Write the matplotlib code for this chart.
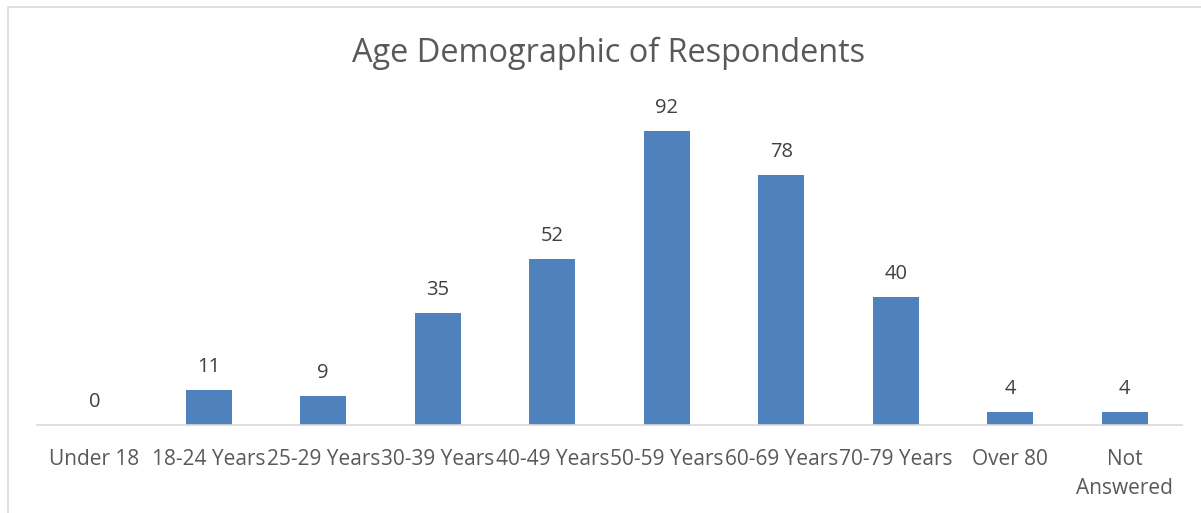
import matplotlib
matplotlib.use("Agg")
import matplotlib.pyplot as plt
from matplotlib.lines import Line2D

categories = ["Under 18", "18-24 Years", "25-29 Years", "30-39 Years", "40-49 Years",
              "50-59 Years", "60-69 Years", "70-79 Years", "Over 80", "Not\nAnswered"]
values = [0, 11, 9, 35, 52, 92, 78, 40, 4, 4]

W, H = 1201, 513
fig = plt.figure(figsize=(W / 100, H / 100), dpi=100)
plt.rcParams['font.family'] = ['Open Sans', 'DejaVu Sans']

# outer chart border (only left and top edges visible)
bx, by = 7.5 / W, 1 - 6.5 / H
fig.lines.append(Line2D([bx, bx, 1.0], [0.0, by, by], transform=fig.transFigure,
                        color="#D9D9D9", linewidth=1.2))

left, right = 37 / W, 1182 / W
bottom, top = 1 - 425 / H, 1 - 105 / H
ax = fig.add_axes([left, bottom, right - left, top - bottom])
x = list(range(len(categories)))
bars = ax.bar(x, values, width=0.4, color="#4F81BD")
ax.set_xlim(-0.5, len(categories) - 0.5)
ax.set_ylim(0, 100)
for s in ["top", "right", "left"]:
    ax.spines[s].set_visible(False)
ax.spines["bottom"].set_color("#D9D9D9")
ax.spines["bottom"].set_linewidth(1.2)
ax.set_yticks([])
ax.set_xticks(x)
ax.set_xticklabels(categories, fontsize=15, color="#595959", linespacing=1.5, va="top")
ax.tick_params(axis="x", length=0, pad=17.5)

for xi, v in zip(x, values):
    ax.annotate(str(v), (xi, v), xytext=(0, 13), textcoords="offset points",
                ha="center", va="baseline", fontsize=14.5, color="#404040")

fig.text(608.5 / W, 1 - 62 / H, "Age Demographic of Respondents", ha="center", va="baseline",
         fontsize=23.4, color="#595959")

fig.savefig("out.png", dpi=100)
